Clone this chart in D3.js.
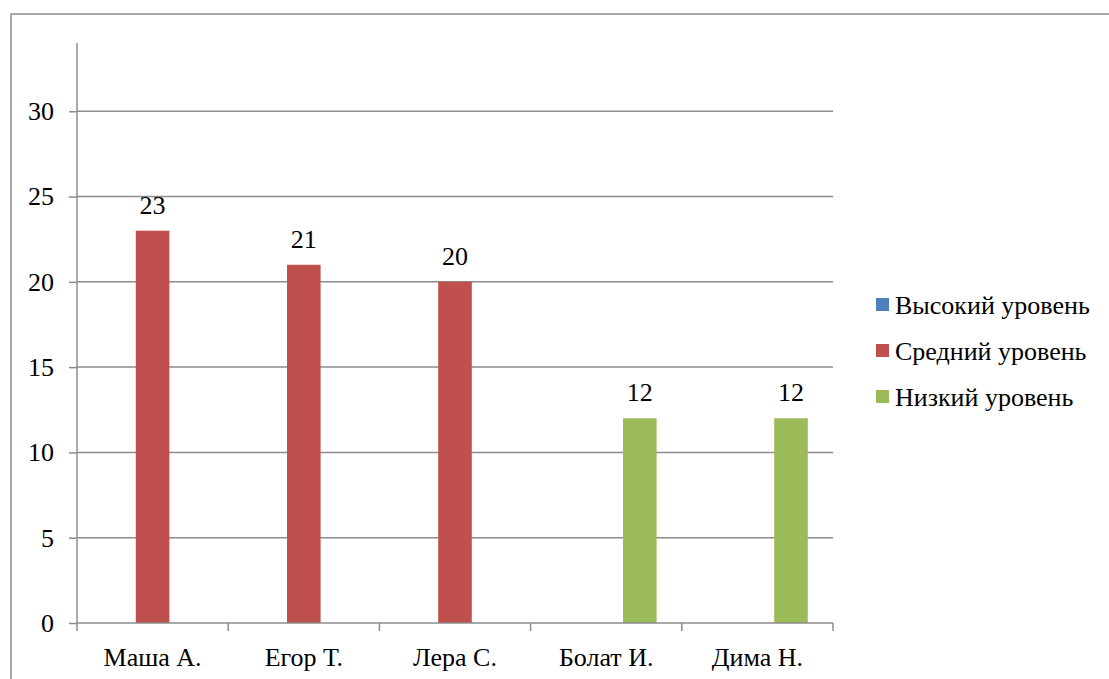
<!DOCTYPE html>
<html>
<head>
<meta charset="utf-8">
<script src="https://cdnjs.cloudflare.com/ajax/libs/d3/7.8.5/d3.min.js"></script>
<style>
body{margin:0;background:#fff;}
svg text{font-family:"Liberation Serif","Times New Roman",serif !important;fill:#000;}
</style>
</head>
<body>
<svg id="chart" width="1109" height="679"></svg>
<script>
// data
var names = ['Маша А.', 'Егор Т.', 'Лера С.', 'Болат И.', 'Дима Н.'];
var seriesNames = ['Высокий уровень', 'Средний уровень', 'Низкий уровень'];
var high = [0, 0, 0, 0, 0];
var mid = [23, 21, 20, 0, 0];
var low = [0, 0, 0, 12, 12];
var yTicks = [0, 5, 10, 15, 20, 25, 30];
var colors = ['#4F81BD', '#C0504D', '#9BBB59'];

var svg = d3.select('#chart');
var fs = 26;
var serif = '"Liberation Serif","Times New Roman",serif';

// outer frame (right and bottom edges fall outside the picture)
svg.append('rect').attr('x', 11).attr('y', 14).attr('width', 1200).attr('height', 800)
  .attr('fill', 'none').attr('stroke', '#8c8c8c').attr('stroke-width', 1.5);

var pLeft = 77, pRight = 833, pTop = 43, pBottom = 623;

var x = d3.scaleBand().domain(names).range([pLeft, pRight]);
var y = d3.scaleLinear().domain([0, 34]).range([pBottom, pTop]);
var xs = d3.scaleBand().domain(seriesNames).range([0, x.bandwidth()]).paddingInner(0).paddingOuter(0.75);

// gridlines
svg.append('g').selectAll('line').data(yTicks.filter(function(d){return d > 0;})).enter().append('line')
  .attr('x1', pLeft).attr('x2', pRight)
  .attr('y1', function(d){return y(d);}).attr('y2', function(d){return y(d);})
  .attr('stroke', '#8c8c8c').attr('stroke-width', 1.5);

// y axis
var yAxis = svg.append('g').attr('transform', 'translate(' + pLeft + ',0)')
  .call(d3.axisLeft(y).tickValues(yTicks).tickSize(8).tickPadding(15));
yAxis.attr('font-family', serif);
yAxis.select('.domain').attr('stroke', '#8c8c8c').attr('stroke-width', 1.5).attr('d', 'M0,' + pTop + 'V' + pBottom);
yAxis.selectAll('.tick line').attr('stroke', '#8c8c8c').attr('stroke-width', 1.5);
yAxis.selectAll('.tick text').attr('font-size', fs).style('font-family', serif).attr('fill', '#000');

// bars
var series = [high, mid, low];
series.forEach(function(vals, si){
  var g = svg.append('g');
  names.forEach(function(n, i){
    var v = vals[i];
    if (v <= 0) return;
    var bx = x(n) + xs(seriesNames[si]);
    g.append('rect').attr('x', bx).attr('y', y(v))
      .attr('width', xs.bandwidth()).attr('height', y(0) - y(v))
      .attr('fill', colors[si]);
    g.append('text').attr('x', bx + xs.bandwidth() / 2).attr('y', y(v) - 17)
      .attr('text-anchor', 'middle').attr('font-size', fs).style('font-family', serif).text(v);
  });
});

// x axis
var xAxis = svg.append('g').attr('transform', 'translate(0,' + pBottom + ')')
  .call(d3.axisBottom(x).tickSize(0).tickPadding(25));
xAxis.attr('font-family', serif);
xAxis.select('.domain').attr('stroke', '#8c8c8c').attr('stroke-width', 1.5).attr('d', 'M' + pLeft + ',0H' + pRight);
xAxis.selectAll('.tick text').attr('font-size', fs).style('font-family', serif).attr('fill', '#000');
var bounds = names.map(function(n){return x(n);}).concat([pRight]);
svg.append('g').selectAll('line').data(bounds).enter().append('line')
  .attr('x1', function(d){return d;}).attr('x2', function(d){return d;})
  .attr('y1', pBottom).attr('y2', pBottom + 8)
  .attr('stroke', '#8c8c8c').attr('stroke-width', 1.5);

// legend
var legend = svg.append('g').attr('transform', 'translate(876,305)');
seriesNames.forEach(function(s, i){
  var row = legend.append('g').attr('transform', 'translate(0,' + (i * 46) + ')');
  row.append('rect').attr('x', 0).attr('y', -7).attr('width', 13).attr('height', 13).attr('fill', colors[i]);
  row.append('text').attr('x', 19).attr('y', 9).attr('font-size', fs).style('font-family', serif).text(s);
});
</script>
</body>
</html>
